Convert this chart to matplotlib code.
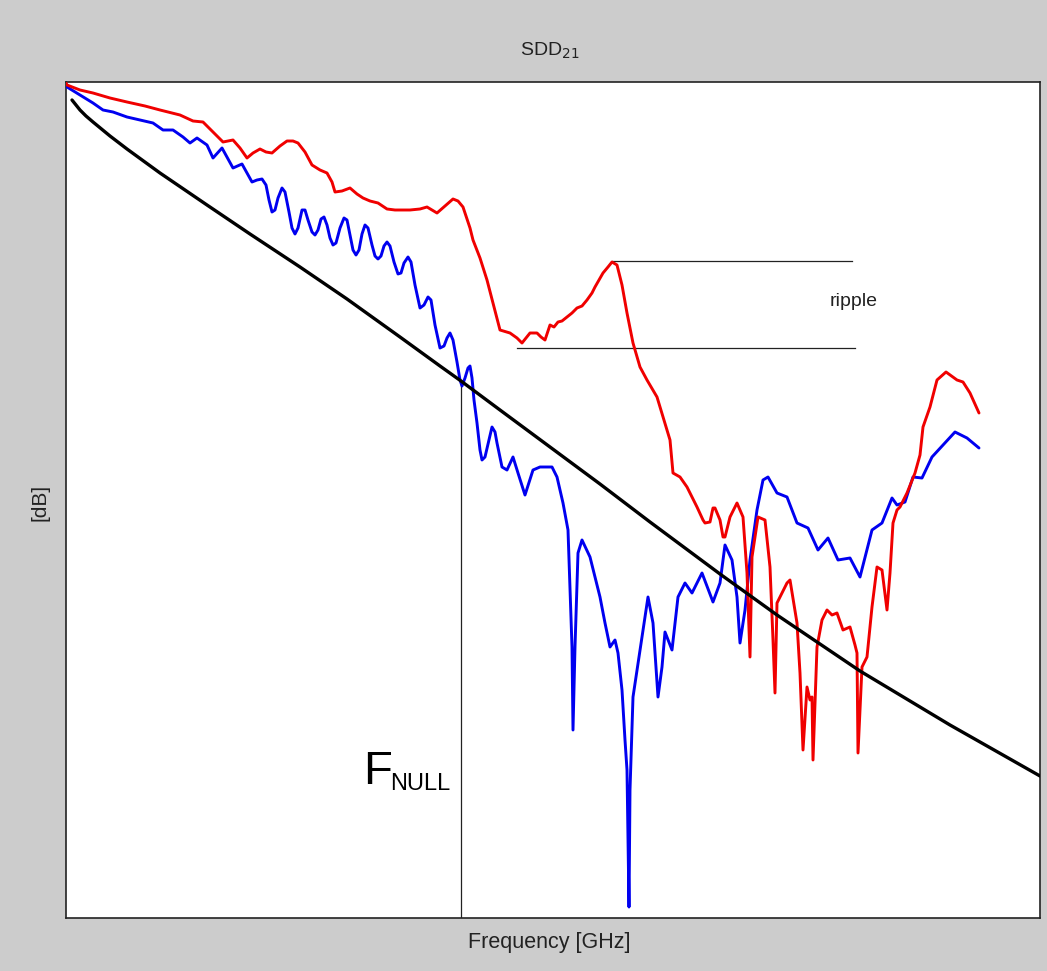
import numpy as np
import matplotlib
matplotlib.use("Agg")
import matplotlib.pyplot as plt

plt.rcParams['font.family'] = ['Liberation Sans', 'DejaVu Sans']

# black: reference loss curve (frequency in GHz, magnitude in dB)
black_f = [0.12, 0.20, 0.28, 0.40, 0.54, 0.88, 1.22, 1.88, 2.82, 3.68, 4.68, 5.62, 6.68, 7.48,
           7.90, 8.68, 9.68, 10.68, 11.68, 13.08, 14.22, 15.88, 17.68, 19.48]
black_db = [-1.8, -2.3, -2.8, -3.4, -4.0, -5.4, -6.7, -9.1, -12.3, -15.2, -18.5, -21.7, -25.5,
            -28.4, -29.9, -32.8, -36.5, -40.2, -44.0, -49.2, -53.3, -58.9, -64.3, -69.4]

# red trace
red_f = [0.00, 0.02, 0.28, 0.54, 0.88, 1.22, 1.58, 1.88, 2.28, 2.54, 2.74, 2.94, 3.14, 3.34,
         3.48, 3.62, 3.74, 3.88, 4.00, 4.12, 4.28, 4.42, 4.54, 4.64, 4.78, 4.92, 5.08, 5.22,
         5.32, 5.38, 5.52, 5.68, 5.82, 5.94, 6.08, 6.24, 6.42, 6.58, 6.88, 7.08, 7.22, 7.32,
         7.42, 7.58, 7.74, 7.84, 7.94, 8.08, 8.14, 8.28, 8.42, 8.54, 8.68, 8.88, 9.02, 9.12,
         9.20, 9.28, 9.42, 9.50, 9.58, 9.68, 9.76, 9.84, 9.92, 10.02, 10.12, 10.22, 10.32,
         10.42, 10.52, 10.58, 10.74, 10.84, 10.92, 11.02, 11.12, 11.22, 11.34, 11.48, 11.62,
         11.82, 11.94, 12.08, 12.14, 12.28, 12.42, 12.62, 12.74, 12.78, 12.88, 12.94, 12.98,
         13.08, 13.14, 13.18, 13.28, 13.42, 13.54, 13.62, 13.68, 13.72, 13.84, 13.98, 14.08,
         14.14, 14.18, 14.22, 14.42, 14.48, 14.62, 14.68, 14.74, 14.82, 14.88, 14.92, 14.94,
         15.02, 15.12, 15.22, 15.32, 15.42, 15.54, 15.68, 15.78, 15.82, 15.84, 15.92, 16.02,
         16.12, 16.22, 16.32, 16.42, 16.48, 16.54, 16.62, 16.68, 16.82, 16.98, 17.08, 17.14,
         17.28, 17.42, 17.60, 17.82, 17.94, 18.08, 18.26]
red_db = [-0.1, -0.3, -0.8, -1.1, -1.6, -2.0, -2.4, -2.8, -3.3, -3.9, -4.0, -5.0, -6.0, -5.8,
          -6.6, -7.6, -7.1, -6.7, -7.0, -7.1, -6.4, -5.9, -5.9, -6.1, -7.0, -8.3, -8.8, -9.1,
          -10.0, -11.0, -10.9, -10.6, -11.2, -11.6, -11.9, -12.1, -12.7, -12.8, -12.8, -12.7,
          -12.5, -12.8, -13.1, -12.4, -11.7, -11.9, -12.5, -14.6, -15.8, -17.6, -19.8, -22.1,
          -24.8, -25.1, -25.6, -26.1, -25.6, -25.1, -25.1, -25.5, -25.8, -24.3, -24.5, -24.0,
          -23.9, -23.5, -23.1, -22.6, -22.4, -21.8, -21.1, -20.5, -19.1, -18.5, -18.0, -18.3,
          -20.3, -23.1, -26.1, -28.5, -29.8, -31.5, -33.5, -35.8, -39.1, -39.5, -40.5, -42.5,
          -43.8, -44.1, -44.0, -42.6, -42.6, -43.8, -45.5, -45.5, -43.5, -42.1, -43.5, -49.1,
          -57.5, -47.5, -43.5, -43.8, -48.5, -55.8, -61.1, -52.1, -50.1, -49.8, -54.1, -59.1,
          -66.8, -60.5, -61.8, -61.5, -67.8, -56.5, -53.8, -52.8, -53.3, -53.1, -54.8, -54.5,
          -56.3, -57.1, -67.1, -58.5, -57.5, -52.5, -48.5, -48.8, -52.8, -49.1, -44.1, -42.8,
          -42.5, -41.1, -39.1, -37.3, -34.5, -32.5, -29.8, -29.0, -29.8, -30.0, -31.1, -33.1]

# blue trace
blue_f = [0.00, 0.02, 0.28, 0.54, 0.74, 0.94, 1.22, 1.48, 1.74, 1.94, 2.14, 2.34, 2.48, 2.62,
          2.82, 2.94, 3.12, 3.34, 3.52,
          3.72, 3.82, 3.92, 4.00, 4.06, 4.12, 4.18, 4.24, 4.32, 4.38, 4.46, 4.52, 4.58, 4.64,
          4.72, 4.78, 4.84, 4.92, 4.98, 5.04, 5.10, 5.16, 5.22, 5.28, 5.34, 5.40, 5.48, 5.56,
          5.62, 5.68, 5.74, 5.80, 5.86, 5.92, 5.98, 6.04, 6.12, 6.18, 6.24, 6.30, 6.36, 6.42,
          6.48, 6.56, 6.64, 6.70, 6.76, 6.84, 6.90, 6.98, 7.08, 7.16, 7.24, 7.30, 7.38, 7.48,
          7.56, 7.62, 7.68, 7.74, 7.82, 7.88, 7.92, 7.98, 8.04, 8.08, 8.12, 8.16, 8.22, 8.28,
          8.32, 8.38, 8.46, 8.52, 8.58, 8.62,
          8.72, 8.82, 8.94, 9.04, 9.18, 9.34, 9.48, 9.72,
          9.82, 9.94, 10.04, 10.12, 10.14, 10.18, 10.24, 10.32, 10.48, 10.68, 10.78, 10.88,
          10.98, 11.04, 11.12, 11.18, 11.22, 11.26, 11.28, 11.34, 11.48, 11.64, 11.74, 11.84,
          11.92, 11.98, 12.12, 12.24, 12.38, 12.52, 12.72, 12.94, 13.08, 13.18, 13.32, 13.42,
          13.48, 13.58, 13.68, 13.82, 13.94, 14.04, 14.22, 14.42, 14.62, 14.84, 15.04, 15.24,
          15.44, 15.68, 15.88, 16.12, 16.32, 16.52, 16.62, 16.78, 16.94, 17.12, 17.32, 17.54,
          17.78, 18.02, 18.26]
blue_db = [-0.2, -0.5, -1.3, -2.1, -2.8, -3.0, -3.5, -3.8, -4.1, -4.8, -4.8, -5.5, -6.1, -5.6,
           -6.3, -7.6, -6.6, -8.6, -8.2,
           -10.0, -9.8, -9.7, -10.3, -11.8, -13.0, -12.8, -11.6, -10.6, -11.0, -13.0, -14.6,
           -15.2, -14.6, -12.8, -12.8, -13.8, -15.0, -15.3, -14.8, -13.7, -13.5, -14.3, -15.6,
           -16.3, -16.1, -14.6, -13.6, -13.8, -15.3, -16.8, -17.3, -16.8, -15.2, -14.3, -14.6,
           -16.3, -17.4, -17.7, -17.4, -16.4, -16.0, -16.4, -18.0, -19.2, -19.1, -18.1, -17.5,
           -18.0, -20.3, -22.6, -22.3, -21.5, -21.8, -24.3, -26.6, -26.4, -25.6, -25.1, -25.8,
           -28.0, -29.8, -30.4, -29.6, -28.6, -28.4, -29.6, -31.8, -34.1, -36.8, -37.8, -37.5,
           -35.8, -34.5, -35.0, -36.1,
           -38.5, -38.8, -37.5, -39.1, -41.3, -38.8, -38.5, -38.5,
           -39.5, -42.1, -44.8, -56.5, -64.8, -56.5, -47.1, -45.8, -47.5, -51.5, -54.1, -56.5,
           -55.8, -57.1, -60.8, -65.8, -68.8, -82.5, -70.8, -61.5, -56.8, -51.5, -54.1, -61.5,
           -58.5, -55.0, -56.8, -51.5, -50.1, -51.1, -49.1, -52.0, -50.1, -46.3, -47.8, -51.5,
           -56.1, -52.8, -47.8, -42.8, -39.8, -39.5, -41.1, -41.5, -44.1, -44.6, -46.8, -45.6,
           -47.8, -47.6, -49.5, -44.8, -44.1, -41.6, -42.3, -42.0, -39.5, -39.6, -37.5, -36.3,
           -35.0, -35.6, -36.6]

f_null = 7.90
ripple_top = (10.92, 15.72, -17.9)
ripple_bot = (9.02, 15.78, -26.6)

W, H = 1047, 971
fig = plt.figure(figsize=(W / 100, H / 100), dpi=100, facecolor='#cccccc')
ax = fig.add_axes([66 / W, 53 / H, 974 / W, 836 / H])
ax.set_facecolor('white')

style = dict(solid_joinstyle='round', solid_capstyle='round')
ax.plot(blue_f, blue_db, color='#0000f0', lw=2.1, zorder=3, **style)
ax.plot(red_f, red_db, color='#f00000', lw=2.1, zorder=4, **style)
ax.plot(black_f, black_db, color='black', lw=2.4, zorder=5, **style)

# F_null marker and ripple guides
fn_db = np.interp(f_null, black_f, black_db)
ax.plot([f_null, f_null], [-83.6, fn_db], color='#222222', lw=0.9, zorder=2)
ax.plot(ripple_top[:2], [ripple_top[2]] * 2, color='#222222', lw=0.9, zorder=2)
ax.plot(ripple_bot[:2], [ripple_bot[2]] * 2, color='#222222', lw=0.9, zorder=2)
ax.text(15.76, -21.9, 'ripple', fontsize=14, ha='center', va='center', color='#222222')
ax.text(5.94, -70.2, 'F', fontsize=34, ha='left', va='baseline', color='black')
ax.text(6.48, -70.8, 'NULL', fontsize=17, ha='left', va='baseline', color='black')

ax.set_xlim(0, 19.48)
ax.set_ylim(-83.6, 0)
ax.set_xticks([])
ax.set_yticks([])
for s in ax.spines.values():
    s.set_color('#222222')
    s.set_linewidth(1.2)

fig.text(550 / W, 1 - 51 / H, r'SDD$_{21}$', fontsize=14, ha='center', va='center', color='#222222')
fig.text(549 / W, 1 - 942 / H, 'Frequency [GHz]', fontsize=15.5, ha='center', va='center', color='#222222')
fig.text(40 / W, 1 - 502 / H, '[dB]', fontsize=15, ha='center', va='center', rotation=90, color='#222222')

fig.savefig('out.png', dpi=100, facecolor=fig.get_facecolor())
